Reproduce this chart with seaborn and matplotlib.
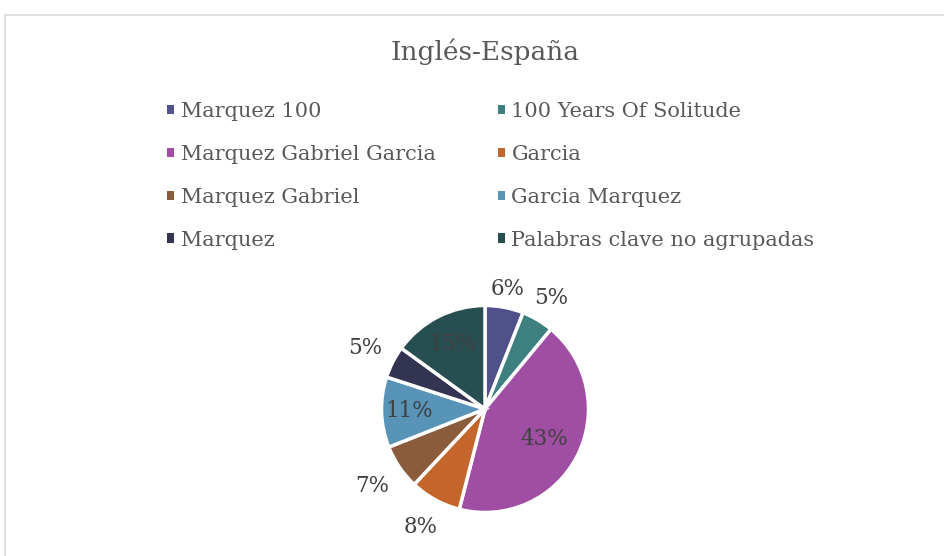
import matplotlib
matplotlib.use("Agg")
import matplotlib.pyplot as plt
import seaborn as sns
import numpy as np
from matplotlib.patches import Rectangle

titulo = "Inglés-España"
categorias = ["Marquez 100", "100 Years Of Solitude", "Marquez Gabriel Garcia", "Garcia",
              "Marquez Gabriel", "Garcia Marquez", "Marquez", "Palabras clave no agrupadas"]
porcentajes = [6, 5, 43, 8, 7, 11, 5, 15]
colores = ["#50508A", "#3E7F80", "#A04EA3", "#C4662C", "#8A5C3B", "#5893B8", "#333352", "#274E50"]
# distance of each % label from the centre (in radii)
dist_etiquetas = [1.18, 1.25, 0.64, 1.30, 1.32, 0.73, 1.30, 0.70]

sns.set_theme(style="white")
plt.rcParams['font.family'] = ['DejaVu Serif']
palette = sns.color_palette(colores)

W, H = 945, 556
fig = plt.figure(figsize=(W / 100, H / 100), dpi=100)
fig.patch.set_facecolor("white")

# light frame of the chart area
fig.patches.append(Rectangle((5 / W, -0.05), 1.1, 1 - 15 / H + 0.05, transform=fig.transFigure,
                             fill=False, edgecolor="#d9d9d9", linewidth=1.2))

cx, cy, r = 485, 409, 103.5
ax = fig.add_axes([(cx - r) / W, (H - cy - r) / H, 2 * r / W, 2 * r / H])
wedges, _ = ax.pie(porcentajes, colors=palette, startangle=90, counterclock=False,
                   wedgeprops=dict(edgecolor="white", linewidth=2.5), radius=1)
ax.set_xlim(-1, 1)
ax.set_ylim(-1, 1)
ax.set_aspect("equal")

for w, p, d in zip(wedges, porcentajes, dist_etiquetas):
    ang = np.deg2rad((w.theta1 + w.theta2) / 2)
    ax.text(d * np.cos(ang), d * np.sin(ang), f"{p}%", ha="center", va="center",
            fontsize=15.5, color="#404040")

fig.text(cx / W, 1 - 52 / H, titulo, ha="center", va="center", fontsize=19, color="#595959")

orden = [0, 2, 4, 6, 1, 3, 5, 7]
leg = fig.legend([wedges[i] for i in orden], [categorias[i] for i in orden],
                 ncol=2, loc="upper left", bbox_to_anchor=(167 / W, 1 - 102 / H),
                 frameon=False, fontsize=15, handlelength=0.35, handleheight=0.35,
                 handletextpad=0.3, labelspacing=1.15, columnspacing=3.0,
                 borderaxespad=0, borderpad=0)
for t in leg.get_texts():
    t.set_color("#595959")
for h in leg.legend_handles:
    h.set_edgecolor("none")

fig.savefig("out.png", dpi=100, facecolor="white")
